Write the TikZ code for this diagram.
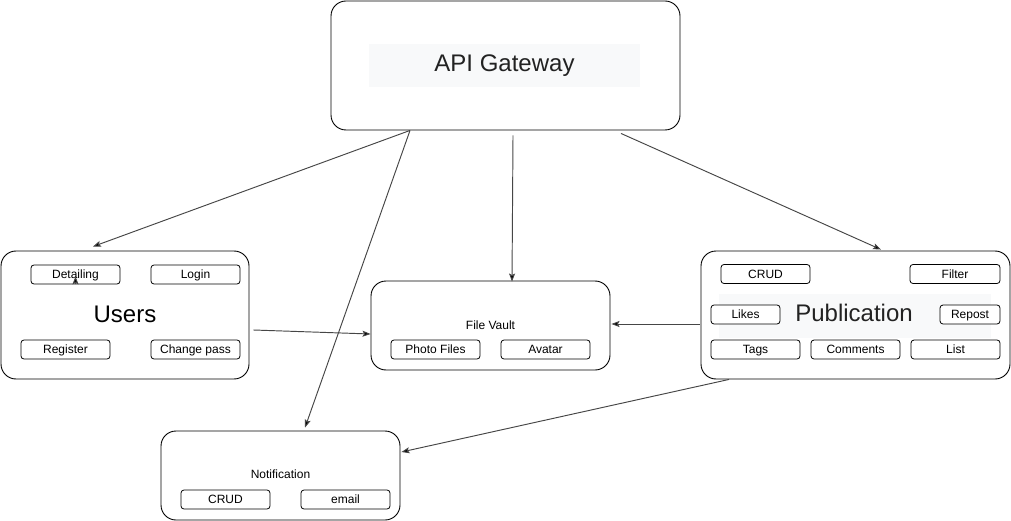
\documentclass[tikz,border=0pt]{standalone}
\usepackage{fontspec}
\setmainfont{Liberation Sans}
\usetikzlibrary{arrows.meta,calc}
\definecolor{lnc}{RGB}{70,70,70}
\definecolor{txg}{RGB}{34,34,34}
\definecolor{bgg}{RGB}{248,249,250}
\tikzset{
  bigbox/.style={draw=black, line width=0.9pt, rounded corners=15pt, fill=white, inner sep=0pt},
  subbox/.style={draw=black, line width=0.8pt, rounded corners=3pt, fill=white, inner sep=0pt, minimum height=19pt, text height=10.6pt, text depth=2.6pt, font=\fontsize{12}{14}\selectfont},
  bigtext/.style={font=\fontsize{24}{28}\selectfont, inner sep=0pt, text height=17.2pt, text depth=5pt},
  midtext/.style={font=\fontsize{12}{14}\selectfont, inner sep=0pt, text height=8.6pt, text depth=2.6pt},
  arr/.style={draw=lnc, line width=0.95pt, -{Stealth[length=8pt,width=6pt,inset=1.5pt,fill=black]}},
  shade/.style={fill=bgg, draw=none, inner sep=0pt}
}
\begin{document}
\begin{tikzpicture}[x=1pt,y=-1pt]
\useasboundingbox (0,0) rectangle (1011,521);
% API Gateway
\node[bigbox, minimum width=349pt, minimum height=129pt] (api) at (505.5,65.5) {};
\node[shade, minimum width=271pt, minimum height=43pt] (apibg) at (504.5,65.5) {};
\node[bigtext, text=txg] (apit) at (504.5,65) {API Gateway};
% Users
\node[bigbox, minimum width=248pt, minimum height=128pt] (users) at (125,315) {};
\node[bigtext] (userst) at (125,316.7) {Users};
\node[subbox, minimum width=89pt] (det) at (75.5,274.5) {Detailing};
\node[subbox, minimum width=89pt] (login) at (195.5,274.5) {Login};
\node[subbox, minimum width=89pt] (reg) at (65.5,349.5) {Register};
\node[subbox, minimum width=89pt] (chp) at (195.5,349.5) {Change pass};
% File Vault
\node[bigbox, minimum width=239pt, minimum height=89pt] (fv) at (490.5,325.5) {};
\node[midtext] (fvt) at (490.5,326.5) {File Vault};
\node[subbox, minimum width=89pt] (photo) at (435.5,349.5) {Photo Files};
\node[subbox, minimum width=89pt] (avatar) at (545.5,349.5) {Avatar};
% Publication
\node[bigbox, minimum width=309pt, minimum height=128pt] (pub) at (855.5,315) {};
\node[shade, minimum width=272pt, minimum height=44pt] (pubbg) at (855,315.5) {};
\node[subbox, minimum width=89pt] (pcrud) at (765.5,274) {CRUD};
\node[subbox, minimum width=90pt] (filter) at (955,274) {Filter};
\node[subbox, minimum width=69pt] (likes) at (745.5,314.5) {Likes};
\node[subbox, minimum width=60pt] (repost) at (970,314.5) {Repost};
\node[subbox, minimum width=89pt] (tags) at (755.5,349.5) {Tags};
\node[subbox, minimum width=89pt] (comm) at (855.5,349.5) {Comments};
\node[subbox, minimum width=89pt] (list) at (955.5,349.5) {List};
\node[bigtext, text=txg] (pubt) at (854,315.5) {Publication};
% Notification
\node[bigbox, minimum width=239pt, minimum height=89pt] (notif) at (280.5,475.5) {};
\node[midtext] (notift) at (280.5,475.5) {Notification};
\node[subbox, minimum width=89pt] (ncrud) at (225.5,499.5) {CRUD};
\node[subbox, minimum width=89pt] (email) at (345.5,499.5) {email};
% Connectors
\draw[arr] ($(api.south)+(-95.5,0)$) -- ($(users.north)+(-32,-4)$);
\draw[arr] ($(api.south)+(-95.5,0)$) -- ($(notif.north)+(24.5,-3)$);
\draw[arr] ($(api.south)+(7.5,5)$) -- ($(fv.north)+(21.5,1)$);
\draw[arr] ($(api.south)+(115.5,3)$) -- ($(pub.north)+(25.5,-1)$);
\draw[arr] ($(users.east)+(4,15)$) -- ($(fv.west)+(0,8.5)$);
\draw[arr] ($(pub.west)+(-1,9)$) -- ($(fv.east)+(1,-1.5)$);
\draw[arr] ($(pub.south)+(-126.5,0)$) -- ($(notif.east)+(1,-23.5)$);
\coordinate (dtip) at ($(det.south)+(0,-8)$);
\draw[arr] (det.south) -- (dtip);
\end{tikzpicture}
\end{document}
